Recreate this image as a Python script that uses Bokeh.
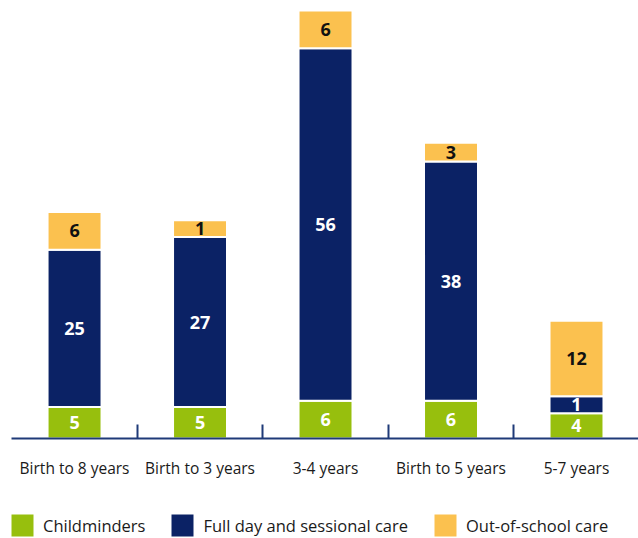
import numpy as np
from bokeh.plotting import figure
from bokeh.models import ColumnDataSource, FixedTicker, Range1d, Legend, LegendItem
from bokeh.core.properties import value
from bokeh.embed import file_html
from bokeh.resources import INLINE

categories = ["Birth to 8 years", "Birth to 3 years", "3-4 years", "Birth to 5 years", "5-7 years"]
childminders = [5, 5, 6, 6, 4]
full_day = [25, 27, 56, 38, 1]
out_of_school = [6, 1, 6, 3, 12]
series_names = ["Childminders", "Full day and sessional care", "Out-of-school care"]
series_values = [childminders, full_day, out_of_school]

colors = ["#97BF0D", "#0B2265", "#FBC14F"]
label_colors = ["#FFFFFF", "#FFFFFF", "#111111"]
MIN_SEG = 2.7  # smallest drawn segment so its label fits
LABEL_FONT = "Open Sans"
NAVY_AXIS = "#1F3A78"

x = np.arange(len(categories))

p = figure(width=638, height=538,
           x_range=Range1d(-0.59, 4.494), y_range=Range1d(-15.89, 69.6),
           output_backend="svg", toolbar_location=None,
           min_border_left=0, min_border_right=0, min_border_top=0, min_border_bottom=0,
           y_axis_location=None)
p.grid.visible = False
p.outline_line_color = None

bottom = np.zeros(len(categories))
renderers = []
for name, vals, col, lc in zip(series_names, series_values, colors, label_colors):
    v = np.array(vals, dtype=float)
    h = np.maximum(v, MIN_SEG)
    src = ColumnDataSource(dict(x=x, bottom=bottom, top=bottom + h, mid=bottom + h / 2,
                                label=[str(int(a)) for a in v]))
    r = p.vbar(x="x", bottom="bottom", top="top", width=0.43, source=src,
               fill_color=col, line_color="white", line_width=2)
    p.text(x="x", y="mid", text="label", source=src, text_align="center",
           text_baseline="middle", text_color=lc, text_font=value("Open Sans"),
           text_font_style="bold", text_font_size="18px")
    renderers.append(r)
    bottom = bottom + h

ax = p.xaxis[0]
ax.fixed_location = 0
ax.bounds = (-0.5, 4.494)
ax.ticker = FixedTicker(ticks=[float(i) for i in x], minor_ticks=[i + 0.5 for i in x[:-1]])
ax.major_label_overrides = {float(i): c for i, c in enumerate(categories)}
ax.major_tick_in = 0
ax.major_tick_out = 0
ax.minor_tick_in = 14
ax.minor_tick_out = 0
ax.minor_tick_line_color = NAVY_AXIS
ax.minor_tick_line_width = 2
ax.axis_line_color = NAVY_AXIS
ax.axis_line_width = 2
ax.major_label_standoff = 18
ax.major_label_text_font = LABEL_FONT
ax.major_label_text_font_size = "15.5px"
ax.major_label_text_color = "#1A1A1A"

legend = Legend(items=[LegendItem(label=n, renderers=[r]) for n, r in zip(series_names, renderers)],
                orientation="horizontal", location=(7, -2),
                glyph_width=30, glyph_height=30, label_standoff=6, spacing=22,
                padding=0, margin=0, border_line_color=None, background_fill_alpha=0,
                label_text_font=LABEL_FONT, label_text_font_size="16.5px",
                label_text_color="#1A1A1A")
p.add_layout(legend)

open("out.html", "w").write(file_html(p, INLINE))
